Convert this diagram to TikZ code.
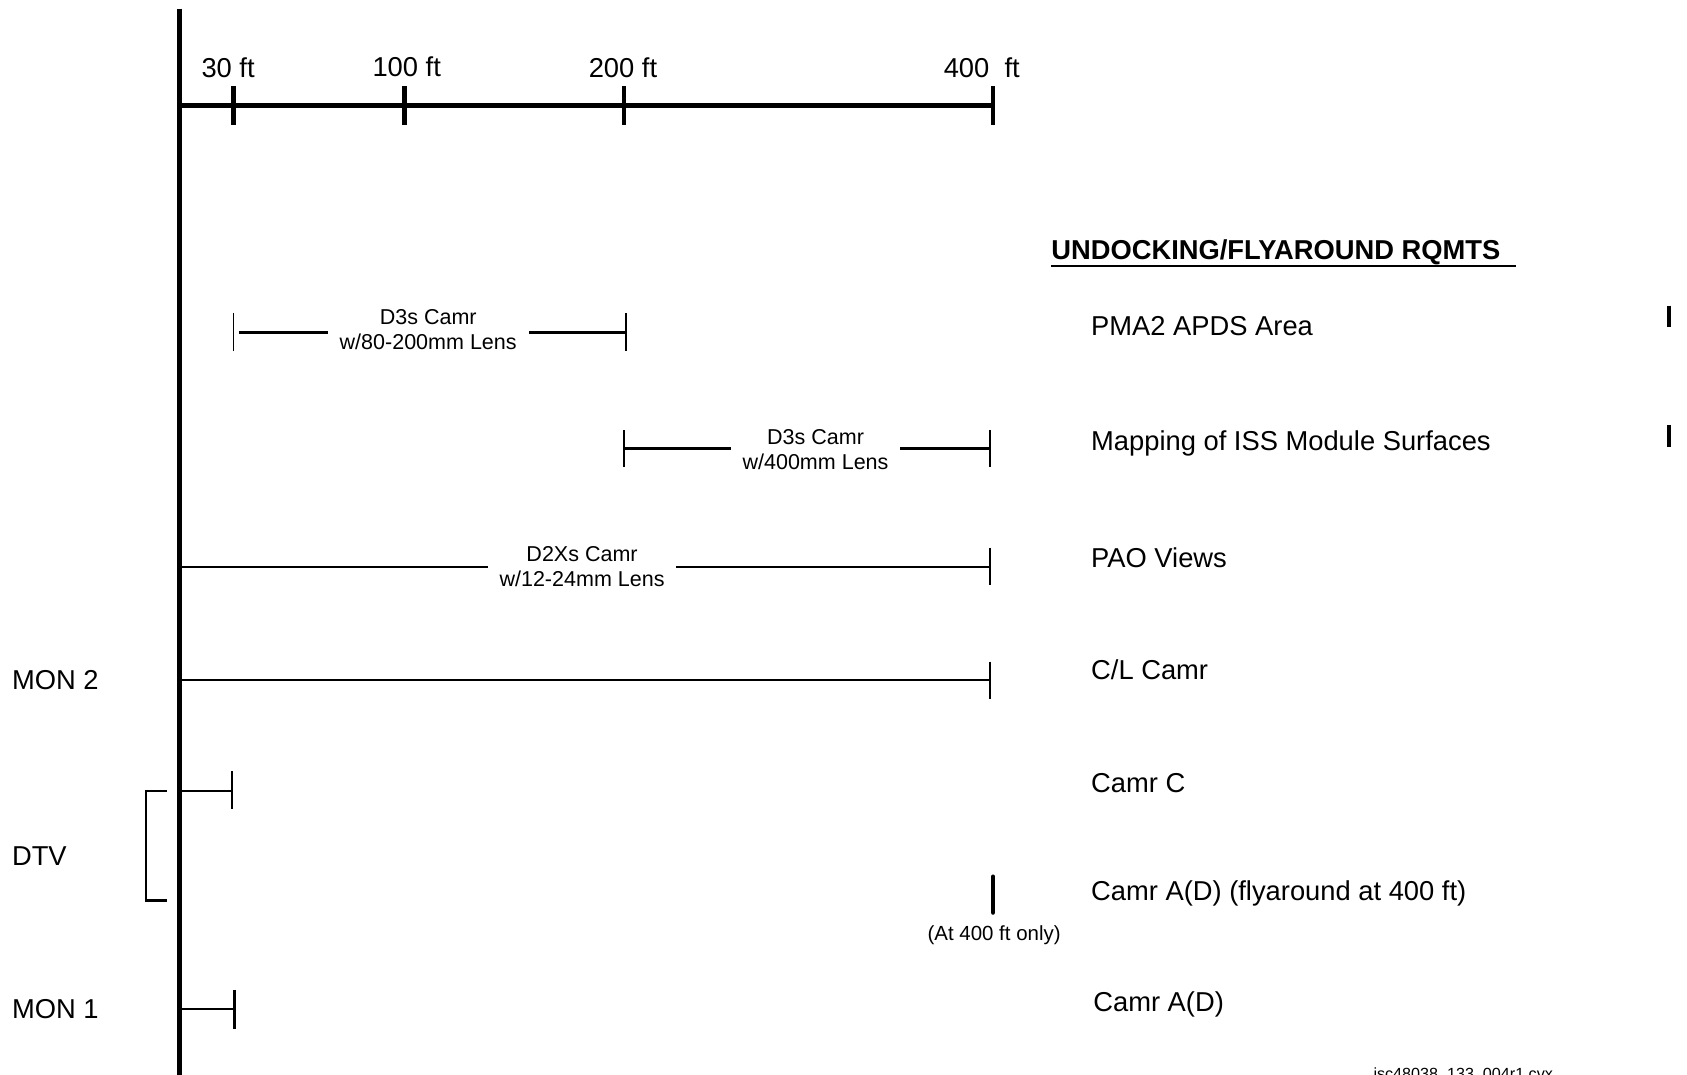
\documentclass[tikz,border=0pt]{standalone}
\usepackage{fontspec}
\setmainfont{Liberation Sans}
\usetikzlibrary{calc}
\tikzset{
  lbl/.style={font=\fontsize{25.4}{30}\selectfont, inner sep=0pt, anchor=base west},
  scl/.style={font=\fontsize{25.4}{30}\selectfont, inner sep=0pt, anchor=base},
  cam/.style={font=\fontsize{20}{23}\selectfont, align=center, fill=white, inner xsep=11pt, inner ysep=1pt},
  note/.style={font=\fontsize{19}{22}\selectfont, inner sep=0pt, anchor=base},
  foot/.style={font=\fontsize{15}{18}\selectfont, inner sep=0pt, anchor=base},
  axisline/.style={line width=4.5pt},
  scaleline/.style={line width=5pt},
  scaletick/.style={line width=4pt},
  barline/.style={line width=2.3pt},
  bartick/.style={line width=2pt},
  thintick/.style={line width=1.2pt},
  heavymark/.style={line width=4.5pt, line cap=round},
  rmark/.style={line width=4pt},
}
\begin{document}
\begin{tikzpicture}[x=1pt,y=-1pt]
\useasboundingbox (0,0) rectangle (1568,999);
% main axis
\coordinate (axtop) at (167,8);
\coordinate (axbot) at (167,1005);
\draw[axisline] (axtop) -- (axbot);
% distance scale
\coordinate (s0) at (167,98);
\coordinate (s30) at (217,98);
\coordinate (s100) at (376,98);
\coordinate (s200) at (580,98);
\coordinate (s400) at (923,98);
\draw[scaleline] (s0) -- (s400);
\foreach \c in {s30,s100,s200,s400}
  \draw[scaletick] ($(\c)+(0,-18)$) -- ($(\c)+(0,18)$);
\node[scl] (t30) at (212,72) {30 ft};
\node[scl] (t100) at (378,71) {100 ft};
\node[scl] (t200) at (579,72) {200 ft};
\node[lbl] (t400) at (877,72) {400~ ft};
% title
\node[lbl, font=\fontsize{25.4}{30}\selectfont\bfseries] (title) at (977,241) {UNDOCKING/FLYAROUND RQMTS};
\coordinate (ulA) at (977,247);
\coordinate (ulB) at (1409,247);
\draw[line width=1.5pt] (ulA) -- (ulB);
% row 1
\coordinate (r1a) at (217,309);
\coordinate (r1b) at (582,309);
\draw[barline] ($(r1a)+(5,0)$) -- (r1b);
\draw[thintick] ($(r1a)+(0,-18)$) -- ($(r1a)+(0,17)$);
\draw[bartick] ($(r1b)+(0,-18)$) -- ($(r1b)+(0,17)$);
\node[cam] (c1) at (398,306.5) {D3s Camr\\w/80-200mm Lens};
\node[lbl] (q1) at (1014,312) {PMA2 APDS Area};
\coordinate (m1a) at (1551,284);
\coordinate (m1b) at (1551,304);
\draw[rmark] (m1a) -- (m1b);
% row 2
\coordinate (r2a) at (580,417);
\coordinate (r2b) at (920,417);
\draw[barline] (r2a) -- (r2b);
\draw[bartick] ($(r2a)+(0,-17)$) -- ($(r2a)+(0,17)$);
\draw[bartick] ($(r2b)+(0,-17)$) -- ($(r2b)+(0,17)$);
\node[cam] (c2) at (758,418) {D3s Camr\\w/400mm Lens};
\node[lbl] (q2) at (1014,419) {Mapping of ISS Module Surfaces};
\coordinate (m2a) at (1551,395);
\coordinate (m2b) at (1551,415);
\draw[rmark] (m2a) -- (m2b);
% row 3
\coordinate (r3a) at (167,527);
\coordinate (r3b) at (920,527);
\draw[line width=1.8pt] (r3a) -- (r3b);
\draw[bartick] ($(r3b)+(0,-18)$) -- ($(r3b)+(0,17)$);
\node[cam] (c3) at (541,526.5) {D2Xs Camr\\w/12-24mm Lens};
\node[lbl] (q3) at (1014,527) {PAO Views};
% row 4
\coordinate (r4a) at (167,632);
\coordinate (r4b) at (920,632);
\draw[barline] (r4a) -- (r4b);
\draw[bartick] ($(r4b)+(0,-17)$) -- ($(r4b)+(0,18)$);
\node[lbl] (q4) at (1014,632) {C/L Camr};
\node[lbl] (mon2) at (11,641) {MON 2};
% row 5
\coordinate (r5a) at (167,735);
\coordinate (r5b) at (216,735);
\draw[barline] (r5a) -- (r5b);
\draw[bartick] ($(r5b)+(0,-18)$) -- ($(r5b)+(0,17)$);
\node[lbl] (q5) at (1014,737) {Camr C};
\coordinate (bk1) at (155,735);
\coordinate (bk2) at (136,735);
\coordinate (bk3) at (136,837);
\coordinate (bk4) at (155,837);
\draw[bartick] (bk1) -- (bk2) -- (bk3) -- (bk4);
\node[lbl] (dtv) at (11,804) {DTV};
% row 6
\coordinate (h1) at (923,815);
\coordinate (h2) at (923,848);
\draw[heavymark] (h1) -- (h2);
\node[lbl] (q6) at (1014,837) {Camr A(D) (flyaround at 400 ft)};
\node[note] (n6) at (924,874) {(At 400 ft only)};
% row 7
\coordinate (r7a) at (167,938);
\coordinate (r7b) at (218,938);
\draw[barline] (r7a) -- (r7b);
\draw[bartick] ($(r7b)+(0,-18)$) -- ($(r7b)+(0,18)$);
\node[lbl] (q7) at (1016,940) {Camr A(D)};
\node[lbl] (mon1) at (11,947) {MON 1};
% footer
\node[foot] (ft) at (1360,1003) {isc48038\_133\_004r1.cvx};
\end{tikzpicture}
\end{document}
